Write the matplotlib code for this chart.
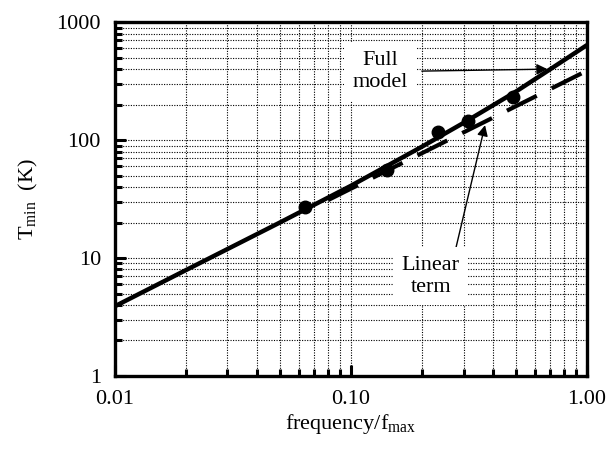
import matplotlib
matplotlib.use("Agg")
import matplotlib.pyplot as plt
from matplotlib.ticker import FixedLocator, FixedFormatter, LogLocator, NullFormatter

# values
freq_full = [0.01, 0.02, 0.05, 0.1, 0.2, 0.3, 0.5, 0.7, 1.0]
tmin_full = [3.9, 7.9, 20, 41, 88, 140, 258, 400, 640]

freq_linear = [0.08, 1.0]
tmin_linear = [31, 388]

freq_meas = [0.064, 0.142, 0.234, 0.313, 0.485]
tmin_meas = [27, 56, 117, 145, 231]

xticks = [0.01, 0.1, 1.0]
xticklabels = ["0.01", "0.10", "1.00"]
yticks = [1, 10, 100, 1000]
yticklabels = ["1", "10", "100", "1000"]

plt.rcParams.update({
    "font.family": "Liberation Serif",
    "font.size": 16,
    "mathtext.fontset": "custom",
    "mathtext.rm": "Liberation Serif",
})

fig = plt.figure(figsize=(6.14, 4.53), dpi=100)
ax = fig.add_axes([0.187, 0.170, 0.769, 0.781])

ax.set_xscale("log")
ax.set_yscale("log")
ax.set_xlim(0.01, 1.0)
ax.set_ylim(1, 1000)

ax.plot(freq_full, tmin_full, color="black", linewidth=3.2, solid_capstyle="butt", zorder=3)
ax.plot(freq_linear, tmin_linear, color="black", linewidth=3.0,
        linestyle=(0, (8, 4)), dash_capstyle="butt", zorder=3)
ax.plot(freq_meas, tmin_meas, "o", color="black", markersize=9, zorder=4)

ax.xaxis.set_major_locator(FixedLocator(xticks))
ax.xaxis.set_major_formatter(FixedFormatter(xticklabels))
ax.yaxis.set_major_locator(FixedLocator(yticks))
ax.yaxis.set_major_formatter(FixedFormatter(yticklabels))
ax.xaxis.set_minor_locator(LogLocator(base=10, subs=range(2, 10)))
ax.yaxis.set_minor_locator(LogLocator(base=10, subs=range(2, 10)))
ax.xaxis.set_minor_formatter(NullFormatter())
ax.yaxis.set_minor_formatter(NullFormatter())

ax.grid(True, which="both", color="black", linewidth=0.8, linestyle=(0, (1, 1.3)))
ax.tick_params(which="major", direction="in", length=8, width=2.2, pad=10)
ax.tick_params(which="minor", direction="in", length=5, width=2.2)
for spine in ax.spines.values():
    spine.set_linewidth(2.4)

ax.set_xlabel(r"frequency/f$_{\rm max}$", labelpad=2)
ax.set_ylabel(r"T$_{\rm min}$  (K)", labelpad=12)

box = dict(facecolor="white", edgecolor="none", pad=6)
ax.annotate("Full\nmodel", xy=(0.68, 400), xytext=(0.133, 380),
            ha="center", va="center", bbox=box, zorder=5,
            arrowprops=dict(arrowstyle="-|>", color="black", lw=1.0,
                            mutation_scale=16, shrinkA=4, shrinkB=0))
ax.annotate("Linear\nterm", xy=(0.37, 134), xytext=(0.218, 7.0),
            ha="center", va="center", bbox=box, zorder=5,
            arrowprops=dict(arrowstyle="-|>", color="black", lw=1.0,
                            mutation_scale=16, shrinkA=0, shrinkB=0,
                            relpos=(0.9, 1.0)))

plt.savefig("out.png", dpi=100)
